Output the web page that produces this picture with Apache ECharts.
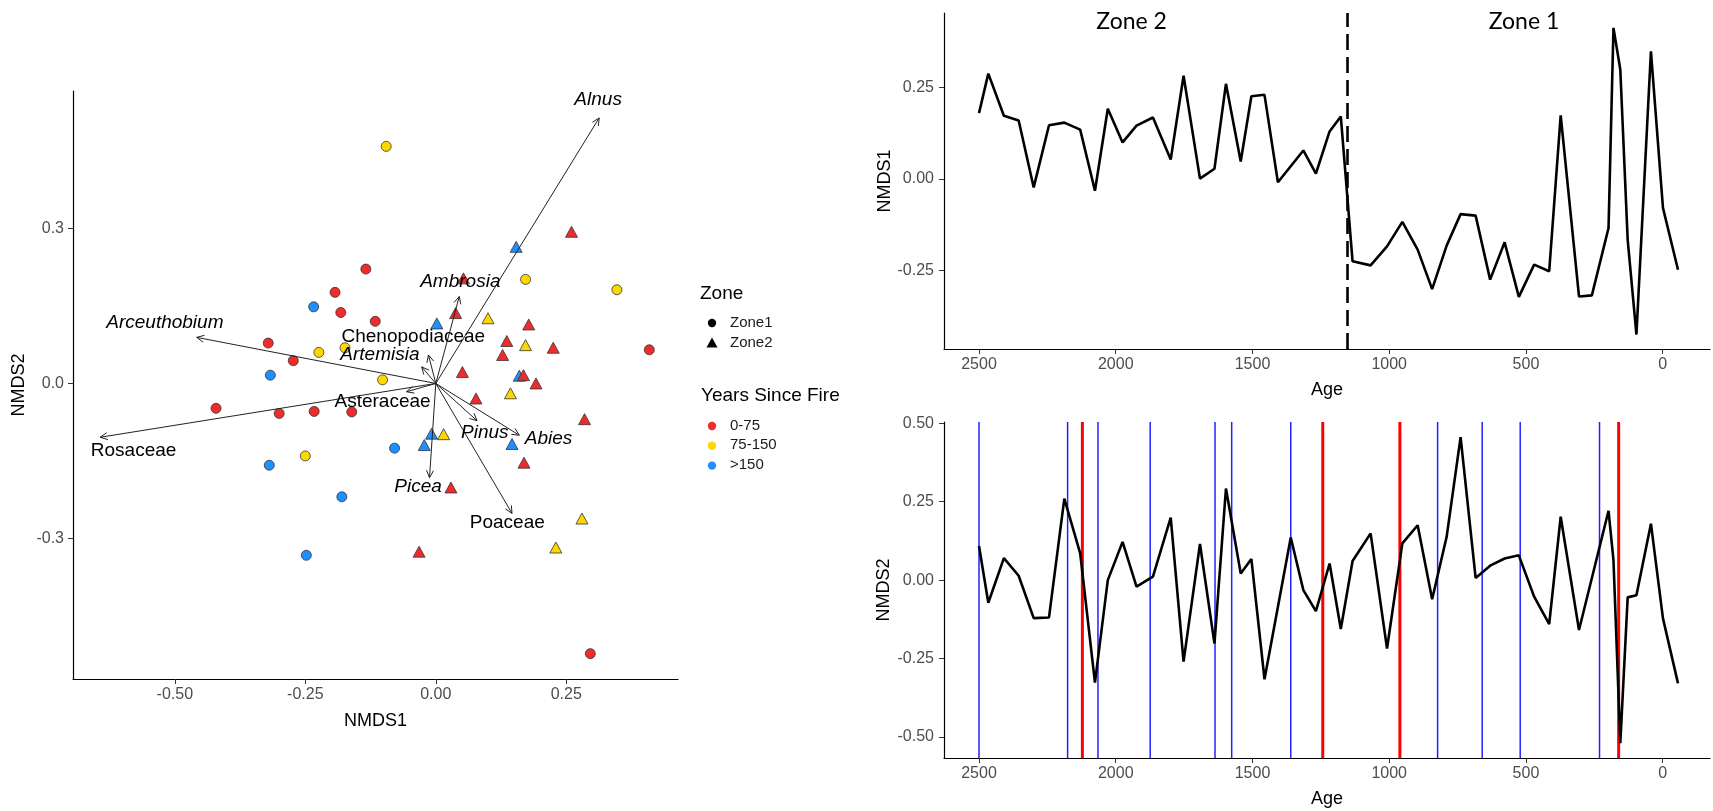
<!DOCTYPE html>
<html><head><meta charset="utf-8">
<script src="https://cdn.jsdelivr.net/npm/echarts@6/dist/echarts.min.js"></script>
<style>html,body{margin:0;padding:0;background:#fff;} #c{width:1713px;height:811px;}</style>
</head><body><div id="c"></div>
<script>
// ---------- NMDS ordination (left) ----------
// Zone 1 sites (circles)
const z1X = [-0.095,-0.134,-0.193,-0.234,-0.182,-0.116,-0.321,-0.224,-0.174,-0.273,-0.317,-0.102,-0.421,-0.300,-0.233,-0.161,-0.250,-0.319,-0.180,-0.248,-0.079,0.409,0.296,0.172,0.347];
const z1Y = [0.458,0.221,0.176,0.148,0.137,0.120,0.078,0.060,0.069,0.044,0.016,0.007,-0.048,-0.058,-0.054,-0.055,-0.140,-0.158,-0.219,-0.332,-0.125,0.065,-0.522,0.201,0.181];
const z1Fire = [1,0,0,2,0,0,0,1,1,0,2,1,0,0,0,0,1,2,2,2,2,0,0,1,1];
// Zone 2 sites (triangles)
const z2X = [0.002,-0.008,0.015,-0.022,0.029,-0.032,0.136,0.172,0.225,0.128,0.051,0.160,0.168,0.192,0.143,0.077,0.285,0.146,0.169,0.280,0.230,0.260,0.154,0.053,0.038,0.100,0.178];
const z2Y = [0.116,-0.097,-0.098,-0.119,-0.201,-0.325,0.082,0.074,0.069,0.055,0.022,0.015,0.016,0.000,-0.019,-0.029,-0.069,-0.117,-0.153,-0.261,-0.317,0.293,0.264,0.203,0.136,0.126,0.114];
const z2Fire = [2,2,1,2,0,0,0,1,0,0,0,2,0,0,1,0,0,2,0,1,1,0,2,0,0,1,0];
const fireClasses = ['0-75','75-150','>150'];
const fireColors = ['#EE2C2C','#FFD700','#1E90FF'];
// Taxa vectors
const taxa = ['Alnus','Ambrosia','Chenopodiaceae','Artemisia','Arceuthobium','Rosaceae','Asteraceae','Picea','Pinus','Abies','Poaceae'];
const taxaItalic = [1,1,0,1,1,0,0,1,1,1,0];
const vecX = [0.313,0.045,-0.027,-0.014,-0.458,-0.643,-0.056,-0.012,0.079,0.160,0.146];
const vecY = [0.513,0.168,0.032,0.055,0.089,-0.104,-0.016,-0.182,-0.072,-0.100,-0.251];
const labX = [0.311,0.047,-0.043,-0.107,-0.519,-0.579,-0.102,-0.034,0.094,0.216,0.137];
const labY = [0.549,0.197,0.090,0.055,0.118,-0.130,-0.035,-0.199,-0.096,-0.106,-0.269];
const ordXTicks = [-0.5,-0.25,0,0.25];
const ordYTicks = [-0.3,0,0.3];

// ---------- Time series (right) ----------
const age = [2500,2466,2409,2355,2300,2244,2188,2130,2076,2029,1975,1924,1864,1799,1752,1692,1639,1597,1543,1504,1456,1407,1360,1314,1268,1218,1177,1134,1068,1008,952,896,843,790,739,684,631,578,526,470,415,373,306,259,198,180,155,128,96,43,-1,-56];
const nmds1 = [0.180,0.288,0.173,0.160,-0.023,0.147,0.154,0.135,-0.032,0.192,0.100,0.146,0.168,0.053,0.282,0.001,0.028,0.260,0.048,0.226,0.230,-0.009,null,0.078,0.015,0.130,0.171,-0.225,-0.236,-0.184,-0.117,-0.193,-0.301,-0.182,-0.096,-0.100,-0.275,-0.173,-0.322,-0.234,-0.252,0.174,-0.321,-0.318,-0.134,0.413,0.299,-0.166,-0.425,0.349,-0.079,-0.248];
const nmds2 = [0.109,-0.072,0.070,0.014,-0.121,-0.119,0.260,0.085,-0.327,0.000,0.122,-0.021,0.011,0.199,-0.260,0.115,-0.202,0.292,0.021,0.067,-0.316,null,0.136,-0.032,-0.099,0.053,-0.156,0.061,0.149,-0.218,0.117,0.175,-0.061,0.138,0.456,0.007,0.046,0.069,0.079,-0.053,-0.140,0.202,-0.159,null,0.221,0.064,-0.520,-0.055,-0.048,0.180,-0.122,-0.329];
const zoneBoundary = 1155;
const zoneNames = ['Zone 2','Zone 1'];
const zoneLabelAge = [1942,507];
const fireBlue = [2500,2176,2065,1874,1637,1576,1360,823,660,521,231];
const fireRed = [2122,1243,961,161];
const ageTicks = [2500,2000,1500,1000,500,0];
const n1Ticks = [-0.25,0,0.25];
const n2Ticks = [-0.5,-0.25,0,0.25,0.5];

const FONT = 'Arial, "Liberation Sans", sans-serif';
function axisCommon(ticks, dec, margin){
  return {
    axisLine:{show:true, onZero:false, lineStyle:{color:'#000', width:1.2}},
    axisTick:{show:true, length:5, customValues:ticks, lineStyle:{color:'#333', width:1}},
    axisLabel:{customValues:ticks, formatter:v=>Number(v).toFixed(dec), color:'#4d4d4d', fontSize:16, fontFamily:FONT, margin:margin},
    splitLine:{show:false},
    nameTextStyle:{color:'#000', fontSize:18, fontFamily:FONT},
    nameLocation:'middle'
  };
}

const chart = echarts.init(document.getElementById('c'));

function pairs(xs, ys){ const out=[]; xs.forEach((x,i)=>{ if(ys[i]!=null) out.push([x,ys[i]]); }); return out; }

function vlineSeries(ages, color, width, xi, yi){
  return {
    type:'custom', xAxisIndex:xi, yAxisIndex:yi, z:1, silent:true,
    data: ages.map(a=>[a,0]),
    renderItem(params, api){
      const cs = params.coordSys;
      const p = api.coord([api.value(0), 0]);
      return {type:'line', shape:{x1:p[0], y1:cs.y, x2:p[0], y2:cs.y+cs.height}, style:{stroke:color, lineWidth:width}};
    }
  };
}

const option = {
  animation:false,
  backgroundColor:'#fff',
  textStyle:{fontFamily:FONT},
  grid:[
    {left:73, top:91, width:605, height:588},
    {left:944, top:13, width:766, height:336},
    {left:944, top:422, width:766, height:336}
  ],
  xAxis:[
    Object.assign(axisCommon(ordXTicks,2,8), {type:'value', gridIndex:0, min:-0.695, max:0.464, name:'NMDS1', nameGap:33}),
    Object.assign(axisCommon(ageTicks,0,8), {type:'value', gridIndex:1, min:-173, max:2628, inverse:true, name:'Age', nameGap:32}),
    Object.assign(axisCommon(ageTicks,0,8), {type:'value', gridIndex:2, min:-173, max:2628, inverse:true, name:'Age', nameGap:32})
  ],
  yAxis:[
    Object.assign(axisCommon(ordYTicks,1,9), {type:'value', gridIndex:0, min:-0.571, max:0.565, name:'NMDS2', nameGap:45}),
    Object.assign(axisCommon(n1Ticks,2,10), {type:'value', gridIndex:1, min:-0.4645, max:0.4536, name:'NMDS1', nameGap:50}),
    Object.assign(axisCommon(n2Ticks,2,10), {type:'value', gridIndex:2, min:-0.567, max:0.504, name:'NMDS2', nameGap:51})
  ],
  series:[
    {
      type:'scatter', xAxisIndex:0, yAxisIndex:0, z:2, symbol:'circle', symbolSize:10,
      data: z1X.map((x,i)=>({value:[x,z1Y[i]], itemStyle:{color:fireColors[z1Fire[i]]}})),
      itemStyle:{borderColor:'#333', borderWidth:0.8, opacity:1}
    },
    {
      type:'scatter', xAxisIndex:0, yAxisIndex:0, z:2, symbol:'triangle', symbolSize:[12,11],
      data: z2X.map((x,i)=>({value:[x,z2Y[i]], itemStyle:{color:fireColors[z2Fire[i]]}})),
      itemStyle:{borderColor:'#333', borderWidth:0.8, opacity:1}
    },
    {
      type:'custom', xAxisIndex:0, yAxisIndex:0, z:5, silent:true,
      data: vecX.map((x,i)=>[x,vecY[i]]),
      renderItem(params, api){
        const o = api.coord([0,0]);
        const t = api.coord([api.value(0), api.value(1)]);
        const ang = Math.atan2(t[1]-o[1], t[0]-o[0]);
        const L = 8, a = Math.PI/7;
        const p1 = [t[0]-L*Math.cos(ang-a), t[1]-L*Math.sin(ang-a)];
        const p2 = [t[0]-L*Math.cos(ang+a), t[1]-L*Math.sin(ang+a)];
        return {type:'group', children:[
          {type:'line', shape:{x1:o[0],y1:o[1],x2:t[0],y2:t[1]}, style:{stroke:'#222', lineWidth:1}},
          {type:'polyline', shape:{points:[p1,t,p2]}, style:{stroke:'#222', lineWidth:1, fill:null}}
        ]};
      }
    },
    {
      type:'custom', xAxisIndex:0, yAxisIndex:0, z:6, silent:true,
      data: labX.map((x,i)=>[x,labY[i]]),
      renderItem(params, api){
        const p = api.coord([api.value(0), api.value(1)]);
        const i = params.dataIndex;
        return {type:'text', x:p[0], y:p[1], style:{text:taxa[i], fontSize:19, fontFamily:FONT, fontStyle: taxaItalic[i]?'italic':'normal', fill:'#000', align:'center', verticalAlign:'middle'}};
      }
    },
    // top line
    {
      type:'line', xAxisIndex:1, yAxisIndex:1, z:3, showSymbol:false, symbol:'none', connectNulls:true,
      data: pairs(age, nmds1), lineStyle:{color:'#000', width:2.6}, itemStyle:{color:'#000'},
      markLine:{silent:true, symbol:['none','none'], label:{show:false}, lineStyle:{color:'#000', width:2.6, type:[16,7]}, data:[{xAxis:zoneBoundary}]}
    },
    {
      type:'custom', xAxisIndex:1, yAxisIndex:1, z:6, silent:true,
      data: zoneLabelAge.map(a=>[a,0]),
      renderItem(params, api){
        const cs = params.coordSys;
        const p = api.coord([api.value(0), 0]);
        return {type:'text', x:p[0], y:cs.y+9, style:{text:zoneNames[params.dataIndex], fontSize:23, fontFamily:'Lato', fill:'#000', align:'center', verticalAlign:'middle'}};
      }
    },
    // bottom fire lines and line
    vlineSeries(fireBlue, '#2222FF', 1.5, 2, 2),
    vlineSeries(fireRed, '#FF0000', 3, 2, 2),
    {
      type:'line', xAxisIndex:2, yAxisIndex:2, z:3, showSymbol:false, symbol:'none', connectNulls:true,
      data: pairs(age, nmds2), lineStyle:{color:'#000', width:2.6}, itemStyle:{color:'#000'}
    }
  ],
  graphic:[
    {type:'text', left:700, top:284, style:{text:'Zone', fontSize:19, fontFamily:FONT, fill:'#000'}},
    {type:'circle', shape:{cx:712, cy:323, r:4.2}, style:{fill:'#000'}},
    {type:'polygon', shape:{points:[[712,337.5],[706.5,347.5],[717.5,347.5]]}, style:{fill:'#000'}},
    {type:'text', left:730, top:315, style:{text:'Zone1', fontSize:15, fontFamily:FONT, fill:'#1a1a1a'}},
    {type:'text', left:730, top:335, style:{text:'Zone2', fontSize:15, fontFamily:FONT, fill:'#1a1a1a'}},
    {type:'text', left:701, top:386, style:{text:'Years Since Fire', fontSize:19, fontFamily:FONT, fill:'#000'}},
    ...fireClasses.flatMap((c,i)=>[
      {type:'circle', shape:{cx:712, cy:426+i*19.8, r:4.2}, style:{fill:fireColors[i]}},
      {type:'text', left:730, top:418+i*19.8, style:{text:c, fontSize:15, fontFamily:FONT, fill:'#1a1a1a'}}
    ])
  ]
};
chart.setOption(option);
</script>
</body></html>
